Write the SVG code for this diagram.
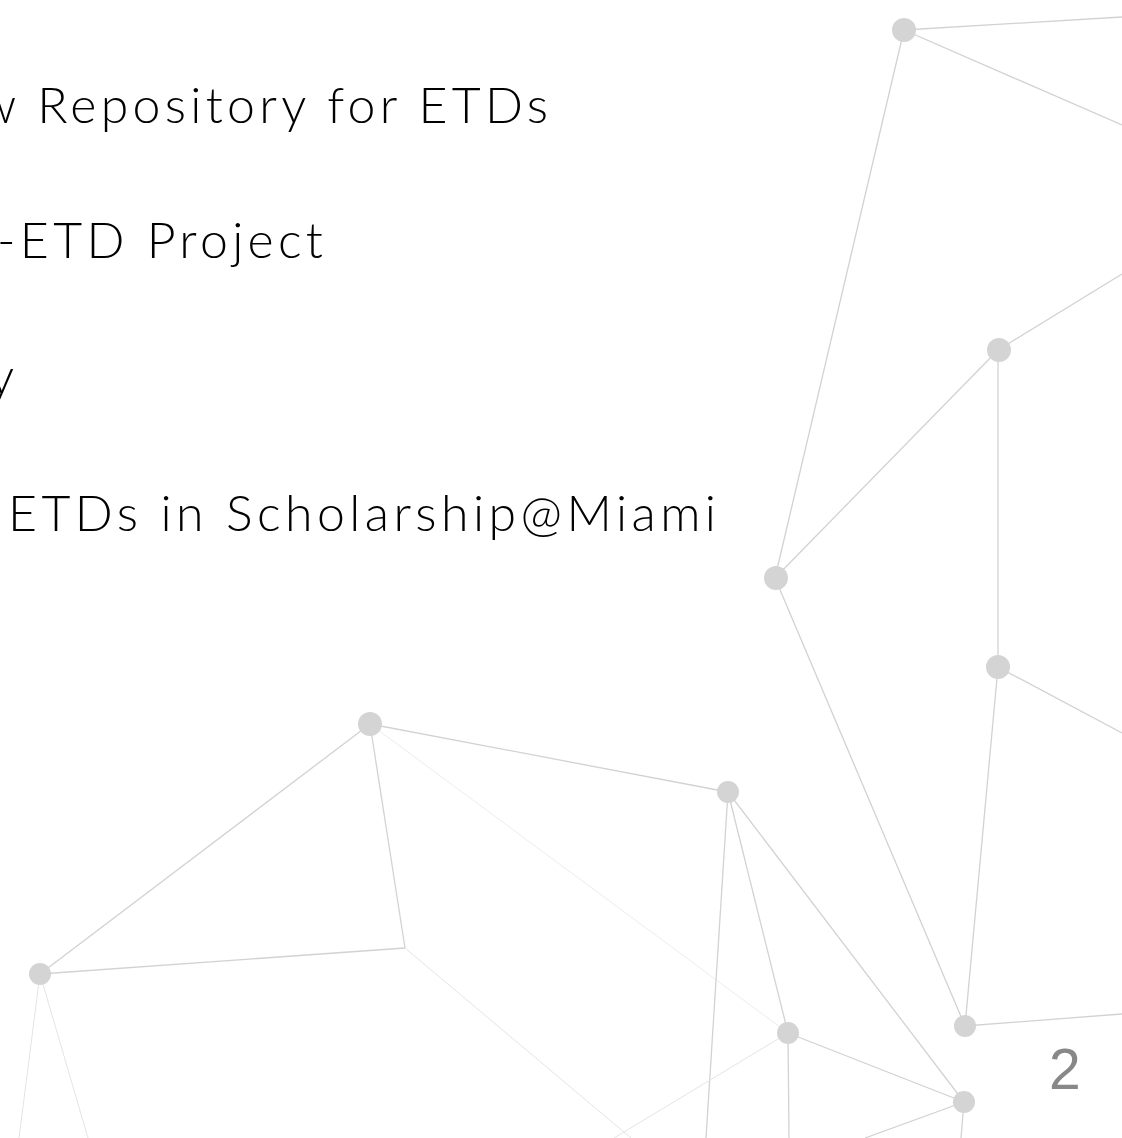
<svg xmlns="http://www.w3.org/2000/svg" width="1122" height="1138" viewBox="0 0 1122 1138">
<style>
.t{font-family:Lato,"Open Sans","Liberation Sans",sans-serif;font-weight:300;font-size:50px;fill:#000}
.n{fill:#d4d4d4}
.l{stroke:#d2d2d2;stroke-width:1.3;fill:none}
.f{stroke:#e4e4e4;stroke-width:1;fill:none}
.pg{font-family:"Liberation Sans",Arial,sans-serif;font-size:57px;fill:#888}
</style>
<rect width="1122" height="1138" fill="#fff"/>
<g id="connectors">
<line class="l" x1="904" y1="30" x2="1122" y2="17"/>
<line class="l" x1="904" y1="30" x2="1122" y2="125"/>
<line class="l" x1="904" y1="30" x2="775" y2="578"/>
<line class="l" x1="998" y1="350" x2="1122" y2="274"/>
<line class="l" x1="998" y1="350" x2="775" y2="578"/>
<line class="l" x1="998" y1="350" x2="998" y2="667"/>
<line class="l" x1="775" y1="578" x2="965" y2="1026"/>
<line class="l" x1="998" y1="667" x2="1122" y2="733"/>
<line class="l" x1="998" y1="667" x2="965" y2="1026"/>
<line class="l" x1="965" y1="1026" x2="1122" y2="1014"/>
<line class="l" x1="370" y1="724" x2="728" y2="792"/>
<line class="l" x1="370" y1="724" x2="40" y2="974"/>
<line class="l" x1="370" y1="724" x2="405" y2="948"/>
<line class="f" x1="370" y1="724" x2="788" y2="1033" stroke-opacity="0.7"/>
<line class="l" x1="40" y1="974" x2="405" y2="948"/>
<line class="f" x1="405" y1="948" x2="631" y2="1138"/>
<line class="f" x1="40" y1="974" x2="19" y2="1138"/>
<line class="f" x1="40" y1="974" x2="88" y2="1138"/>
<line class="l" x1="728" y1="792" x2="706" y2="1138"/>
<line class="l" x1="728" y1="792" x2="788" y2="1033"/>
<line class="l" x1="728" y1="792" x2="964" y2="1102"/>
<line class="l" x1="788" y1="1033" x2="964" y2="1102"/>
<line class="l" x1="788" y1="1033" x2="789" y2="1138"/>
<line class="f" x1="788" y1="1033" x2="614" y2="1138"/>
<line class="l" x1="964" y1="1102" x2="865" y2="1138"/>
<line class="l" x1="964" y1="1102" x2="961" y2="1138"/>
</g>
<g id="node-a"><circle class="n" cx="904" cy="30" r="12"/></g>
<g id="node-b"><circle class="n" cx="999" cy="350" r="12"/></g>
<g id="node-c"><circle class="n" cx="776" cy="578" r="12"/></g>
<g id="node-d"><circle class="n" cx="998" cy="667" r="12"/></g>
<g id="node-e"><circle class="n" cx="370" cy="724" r="12"/></g>
<g id="node-f"><circle class="n" cx="728" cy="792" r="11"/></g>
<g id="node-g"><circle class="n" cx="40" cy="974" r="11"/></g>
<g id="node-h"><circle class="n" cx="965" cy="1026" r="11"/></g>
<g id="node-i"><circle class="n" cx="788" cy="1033" r="11"/></g>
<g id="node-j"><circle class="n" cx="964" cy="1102" r="11"/></g>
<g id="text">
<text class="t" x="-22" y="123" textLength="570" lengthAdjust="spacing">w Repository for ETDs</text>
<text class="t" x="-3" y="258" textLength="326" lengthAdjust="spacing">-ETD Project</text>
<text class="t" x="14" y="394" text-anchor="end">y</text>
<text class="t" x="8" y="531" textLength="708" lengthAdjust="spacing">ETDs in Scholarship@Miami</text>
<text class="pg" x="1049" y="1089">2</text>
</g>
</svg>
